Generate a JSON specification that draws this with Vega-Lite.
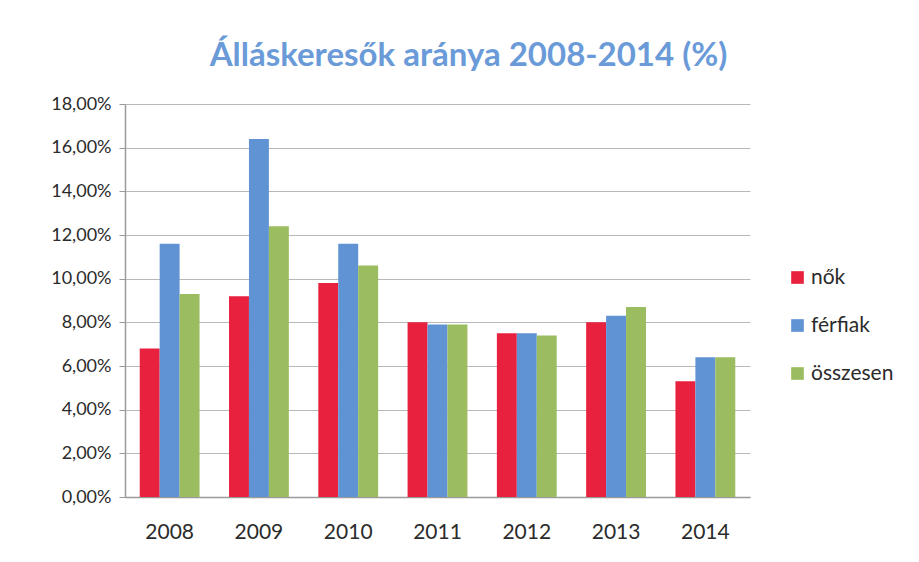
{
  "$schema": "https://vega.github.io/schema/vega-lite/v6.json",
  "width": 625,
  "height": 393,
  "autosize": {"type": "none"},
  "padding": {"left": 125, "top": 104, "right": 169, "bottom": 65},
  "background": "white",
  "title": {
    "text": "Álláskeresők aránya 2008-2014 (%)",
    "font": "Lato",
    "fontSize": 33,
    "fontWeight": "bold",
    "color": "#6a9bd8",
    "anchor": "middle",
    "dx": 31,
    "offset": 22
  },
  "data": {
    "values": [
      {"ev": "2008", "csoport": "nők", "ertek": 6.8},
      {"ev": "2008", "csoport": "férfiak", "ertek": 11.6},
      {"ev": "2008", "csoport": "összesen", "ertek": 9.3},
      {"ev": "2009", "csoport": "nők", "ertek": 9.2},
      {"ev": "2009", "csoport": "férfiak", "ertek": 16.4},
      {"ev": "2009", "csoport": "összesen", "ertek": 12.4},
      {"ev": "2010", "csoport": "nők", "ertek": 9.8},
      {"ev": "2010", "csoport": "férfiak", "ertek": 11.6},
      {"ev": "2010", "csoport": "összesen", "ertek": 10.6},
      {"ev": "2011", "csoport": "nők", "ertek": 8.0},
      {"ev": "2011", "csoport": "férfiak", "ertek": 7.9},
      {"ev": "2011", "csoport": "összesen", "ertek": 7.9},
      {"ev": "2012", "csoport": "nők", "ertek": 7.5},
      {"ev": "2012", "csoport": "férfiak", "ertek": 7.5},
      {"ev": "2012", "csoport": "összesen", "ertek": 7.4},
      {"ev": "2013", "csoport": "nők", "ertek": 8.0},
      {"ev": "2013", "csoport": "férfiak", "ertek": 8.3},
      {"ev": "2013", "csoport": "összesen", "ertek": 8.7},
      {"ev": "2014", "csoport": "nők", "ertek": 5.3},
      {"ev": "2014", "csoport": "férfiak", "ertek": 6.4},
      {"ev": "2014", "csoport": "összesen", "ertek": 6.4}
    ]
  },
  "mark": {"type": "bar"},
  "encoding": {
    "x": {
      "field": "ev",
      "type": "nominal",
      "scale": {"paddingInner": 0.33, "paddingOuter": 0.165},
      "axis": {
        "title": null,
        "labelAngle": 0,
        "labelFont": "Lato",
        "labelFontSize": 21,
        "labelColor": "#2b2b2b",
        "labelPadding": 24,
        "ticks": false,
        "domainColor": "#9a9a9a",
        "domainWidth": 1.5
      }
    },
    "xOffset": {
      "field": "csoport",
      "type": "nominal",
      "sort": ["nők", "férfiak", "összesen"],
      "scale": {"paddingInner": 0, "paddingOuter": 0}
    },
    "y": {
      "field": "ertek",
      "type": "quantitative",
      "scale": {"domain": [0, 18], "nice": false},
      "axis": {
        "title": null,
        "values": [0, 2, 4, 6, 8, 10, 12, 14, 16, 18],
        "labelExpr": "replace(format(datum.value, '.2f'), '.', ',') + '%'",
        "labelFont": "Lato",
        "labelFontSize": 18,
        "labelColor": "#2b2b2b",
        "labelPadding": 8,
        "tickSize": 6,
        "tickColor": "#9a9a9a",
        "domainColor": "#9a9a9a",
        "domainWidth": 1.5,
        "gridColor": "#b8b8b8",
        "gridWidth": 1
      }
    },
    "color": {
      "field": "csoport",
      "type": "nominal",
      "sort": ["nők", "férfiak", "összesen"],
      "scale": {
        "domain": ["nők", "férfiak", "összesen"],
        "range": ["#e8213f", "#5f93d3", "#9bbd5f"]
      },
      "legend": {
        "title": null,
        "orient": "none",
        "legendX": 662,
        "legendY": 163,
        "symbolType": "square",
        "symbolSize": 160,
        "symbolStrokeWidth": 0,
        "labelFont": "Lato",
        "labelFontSize": 21,
        "labelColor": "#2b2b2b",
        "labelOffset": 3,
        "rowPadding": 26
      }
    }
  },
  "config": {
    "view": {"stroke": null}
  }
}
